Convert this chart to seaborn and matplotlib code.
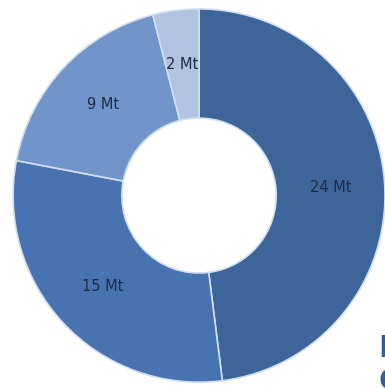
import matplotlib
matplotlib.use("Agg")
import matplotlib.pyplot as plt
import seaborn as sns

# Emissions by source (Mt), clockwise from 12 o'clock
labels = ["24 Mt", "15 Mt", "9 Mt", "2 Mt"]
values = [24, 15, 9, 2]
colors = ["#3E6599", "#4774B0", "#7194CA", "#B1C3E1"]

sns.set_style("white")
plt.rcParams['font.family'] = ['DejaVu Sans']

fig = plt.figure(figsize=(3.85, 3.88), dpi=100)
ax = fig.add_axes([0.034, 0.015, 0.966, 0.962])

total = sum(values)
wedges, texts, autotexts = ax.pie(
    values,
    colors=colors,
    startangle=90,
    counterclock=False,
    radius=1.0,
    autopct=lambda p: f"{round(p * total / 100):.0f} Mt",
    pctdistance=0.71,
    wedgeprops=dict(width=0.585, edgecolor="#D3DFF1", linewidth=1.2),
    textprops=dict(color="#1C2B47", fontsize=10.5),
)
ax.set_xlim(-1, 1)
ax.set_ylim(-1, 1)
ax.set_aspect("auto")
ax.axis("off")

# partially visible heading at the right edge
fig.text(378 / 385, 1 - 357 / 388, "E", color="#2F5E9C", fontsize=22,
         fontweight="bold", ha="left", va="baseline")
fig.text(378 / 385, 1 - 390 / 388, "C", color="#2F5E9C", fontsize=22,
         fontweight="bold", ha="left", va="baseline")

fig.savefig("out.png", dpi=100, facecolor="white")
